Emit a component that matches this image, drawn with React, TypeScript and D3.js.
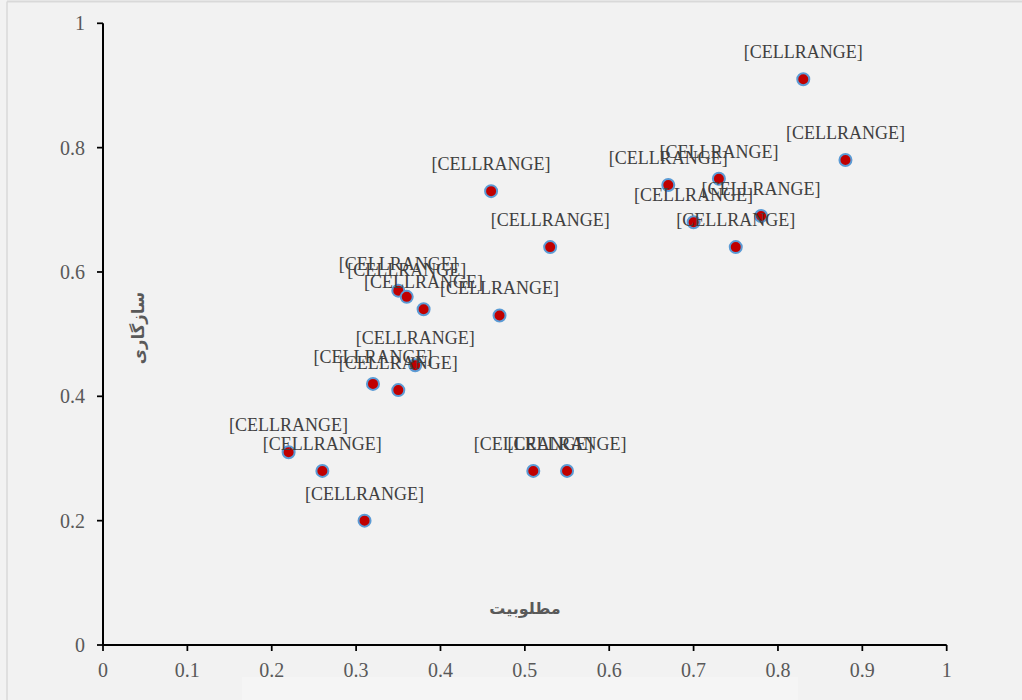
import * as d3 from 'd3'

// values (مطلوبیت vs سازگاری)
const xValues = [0.83, 0.88, 0.73, 0.67, 0.78, 0.70, 0.75, 0.46, 0.53, 0.35, 0.36, 0.38, 0.47, 0.37, 0.32, 0.35, 0.22, 0.26, 0.31, 0.51, 0.55]
const yValues = [0.91, 0.78, 0.75, 0.74, 0.69, 0.68, 0.64, 0.73, 0.64, 0.57, 0.56, 0.54, 0.53, 0.45, 0.42, 0.41, 0.31, 0.28, 0.20, 0.28, 0.28]
const pointLabels = xValues.map(() => '[CELLRANGE]')
const xTicks = [0, 0.1, 0.2, 0.3, 0.4, 0.5, 0.6, 0.7, 0.8, 0.9, 1]
const yTicks = [0, 0.2, 0.4, 0.6, 0.8, 1]
const xTitle = 'مطلوبیت'
const yTitle = 'سازگاری'

const W = 1022
const H = 700
const plot = { left: 103, right: 946.7, top: 23.3, bottom: 645 }

const TEXT = '#595959'
const SERIF = '"Liberation Serif", "Times New Roman", serif'

export default function App() {
  const x = d3.scaleLinear().domain([0, 1]).range([plot.left, plot.right])
  const y = d3.scaleLinear().domain([0, 1]).range([plot.bottom, plot.top])
  const fmt = (d: number) => String(+d.toFixed(1))

  return (
    <svg width={W} height={H} style={{ position: 'fixed', left: 0, top: 0, display: 'block' }}>
      <rect x={0} y={0} width={W} height={H} fill="#F2F2F2" />
      {/* chart border */}
      <line x1={7} y1={1.5} x2={W} y2={1.5} stroke="#D9D9D9" strokeWidth={2} />
      <line x1={7} y1={1.5} x2={7} y2={H} stroke="#D9D9D9" strokeWidth={1.5} />
      {/* faint lighter strip at the bottom edge */}
      <rect x={242} y={677} width={556} height={23} fill="#F5F5F5" />

      {/* axes */}
      <line x1={x(0)} x2={x(1)} y1={y(0)} y2={y(0)} stroke="#000" strokeWidth={2} />
      <line x1={x(0)} x2={x(0)} y1={y(0)} y2={y(1)} stroke="#000" strokeWidth={2} />
      {xTicks.map((t) => (
        <g key={'x' + t}>
          <line x1={x(t)} x2={x(t)} y1={y(0)} y2={y(0) + 6} stroke="#000" strokeWidth={1.75} />
          <text x={x(t)} y={y(0) + 32} textAnchor="middle" fontFamily={SERIF} fontSize={20} fill={TEXT}>
            {fmt(t)}
          </text>
        </g>
      ))}
      {yTicks.map((t) => (
        <g key={'y' + t}>
          <line x1={x(0) - 6} x2={x(0)} y1={y(t)} y2={y(t)} stroke="#000" strokeWidth={1.75} />
          <text x={x(0) - 18} y={y(t)} dy="0.35em" textAnchor="end" fontFamily={SERIF} fontSize={20} fill={TEXT}>
            {fmt(t)}
          </text>
        </g>
      ))}

      {/* axis titles */}
      <text x={525} y={614} textAnchor="middle" fontFamily='"DejaVu Sans", sans-serif' fontWeight="bold" fontSize={16} fill={TEXT}>
        {xTitle}
      </text>
      <text
        transform={`translate(144,328) rotate(-90)`}
        textAnchor="middle"
        fontFamily='"DejaVu Sans", sans-serif'
        fontWeight="bold"
        fontSize={16.5}
        fill={TEXT}
      >
        {yTitle}
      </text>

      {/* markers */}
      {xValues.map((v, i) => (
        <circle key={'p' + i} cx={x(v)} cy={y(yValues[i])} r={6} fill="#C00000" stroke="#5B9BD5" strokeWidth={2} />
      ))}
      {/* data labels */}
      {xValues.map((v, i) => (
        <text
          key={'l' + i}
          x={x(v)}
          y={y(yValues[i]) - 21}
          textAnchor="middle"
          fontFamily={SERIF}
          fontSize={18}
          fill="#404040"
        >
          {pointLabels[i]}
        </text>
      ))}
    </svg>
  )
}
